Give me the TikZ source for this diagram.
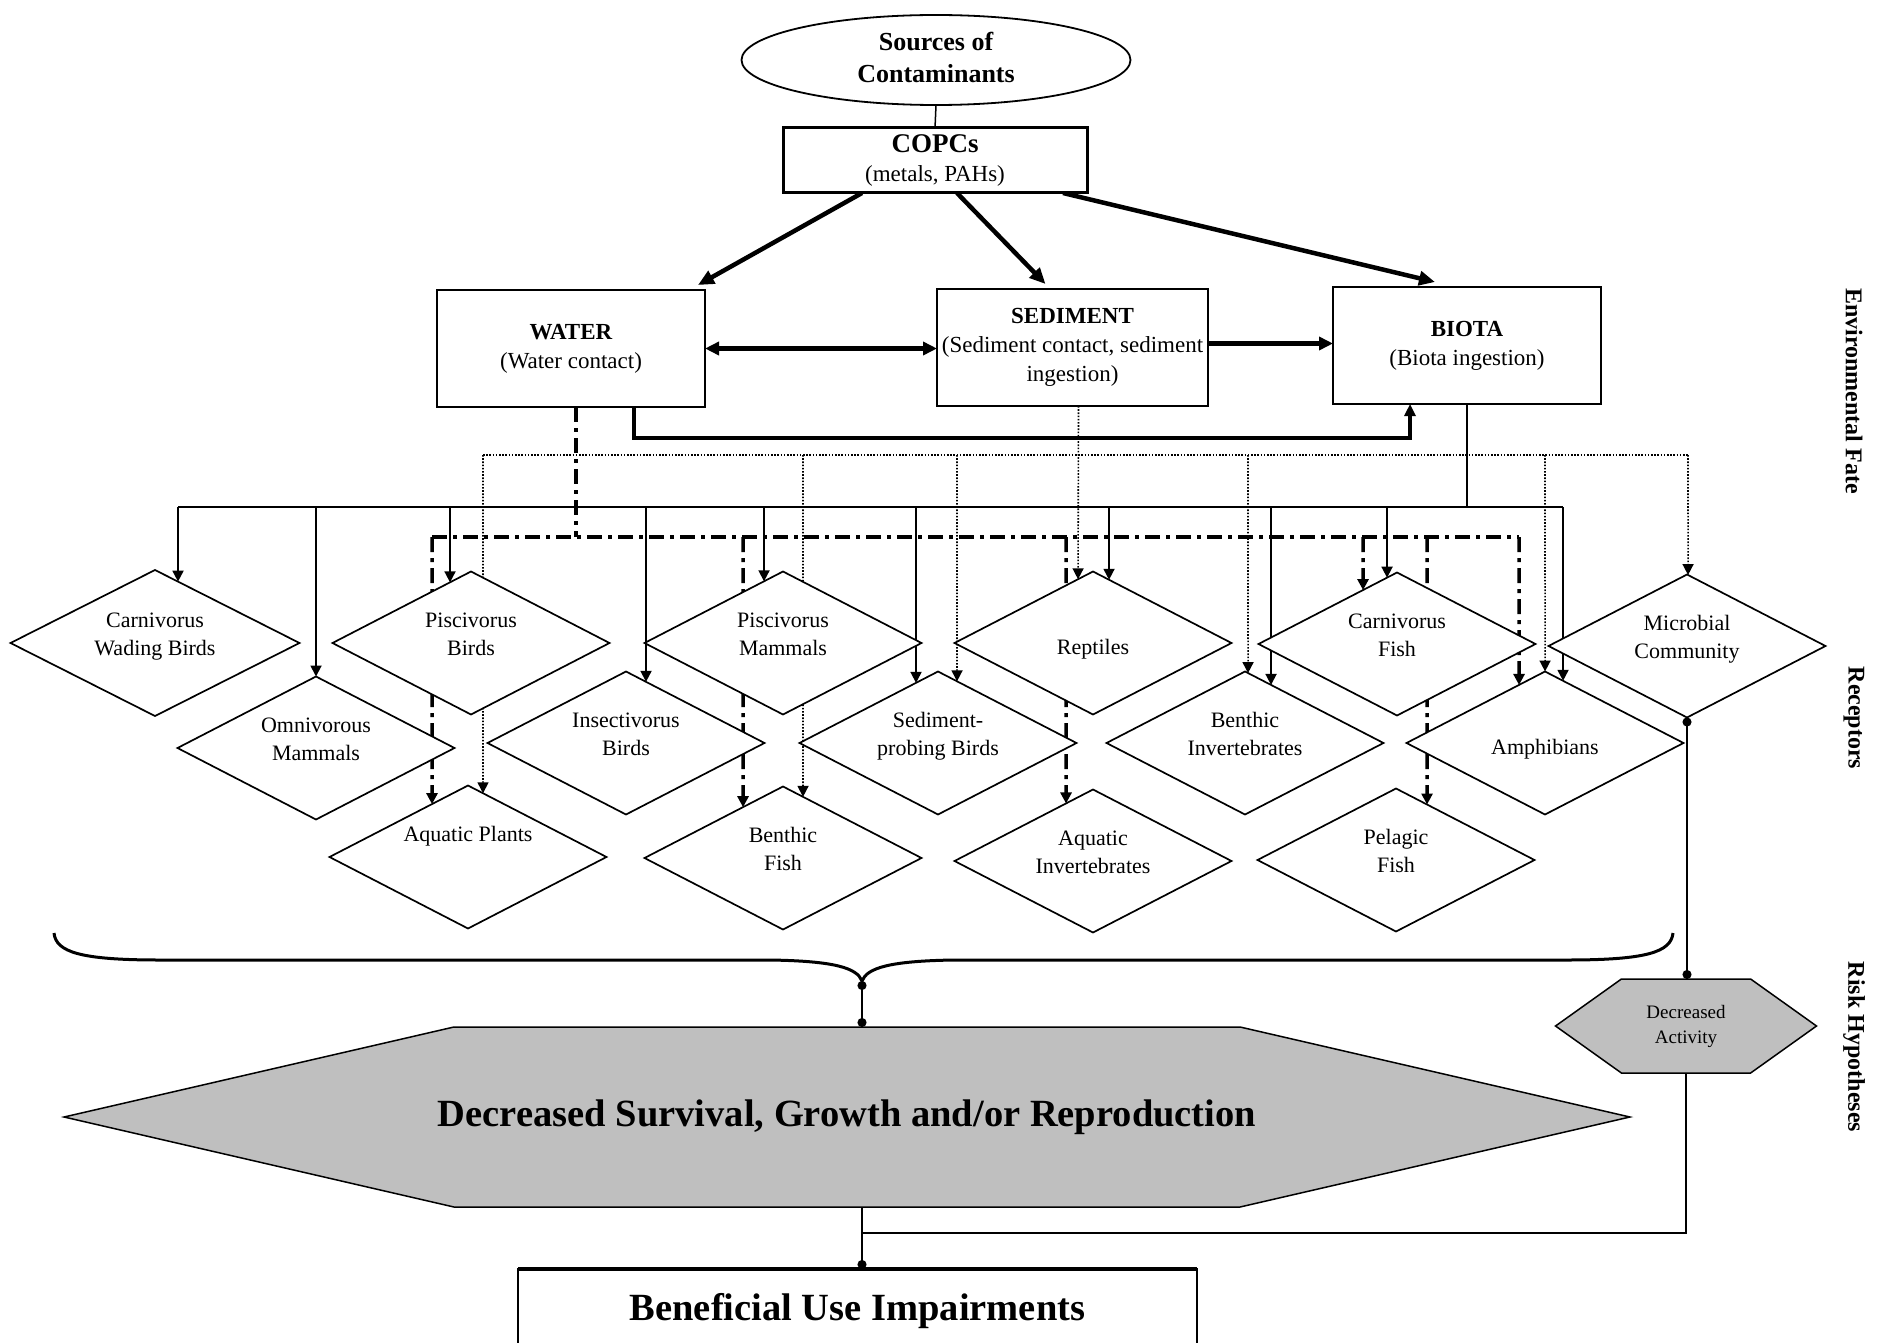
\documentclass[tikz,border=0pt]{standalone}
\usepackage{fontspec}
\setmainfont{Liberation Serif}
\usetikzlibrary{arrows.meta,shapes.geometric,shapes.symbols}
\pgfdeclarelayer{back}
\pgfsetlayers{back,main}

\begin{document}
\begin{tikzpicture}[x=1pt,y=-1pt,
	every node/.style={inner sep=0pt,outer sep=0pt,align=center},
	fatebox/.style={draw,line width=1.7pt,fill=white,minimum width=268pt,minimum height=117pt,font=\fontsize{23}{29}\selectfont},
	recep/.style={draw,diamond,aspect=1.94,line width=1.7pt,fill=white,minimum width=277pt,minimum height=143pt,text depth=18pt,font=\fontsize{22}{28}\selectfont},
	hyp/.style={draw,signal,signal to=west and east,line width=1.5pt,fill=black!25},
	sidelabel/.style={rotate=-90,font=\fontsize{24}{28}\selectfont\bfseries},
	solidline/.style={line width=1.8pt},
	dotline/.style={line width=1.6pt,dash pattern=on 1.6pt off 1.6pt},
	dashdotline/.style={line width=3.5pt,dash pattern=on 15pt off 6pt on 4pt off 6pt},
	headed/.style={-{Triangle[length=11pt,width=11pt]}},
	bigarrow/.style={line width=4.5pt,-{Triangle[length=16pt,width=14pt]}},
	dotends/.style={{Circle[length=9pt]}-{Circle[length=9pt]}}
]
\useasboundingbox (0,0) rectangle (1881,1343);

\node[draw,ellipse,line width=1.8pt,minimum width=389pt,minimum height=90pt,text depth=6pt,font=\fontsize{26}{32}\selectfont\bfseries] (src) at (936,60) {Sources of\\Contaminants};
\node[fatebox,line width=3pt,minimum width=304pt,minimum height=65pt] (copc) at (935,160.5) {{\fontsize{27}{33}\selectfont\bfseries COPCs}\\(metals, PAHs)};
\node[fatebox] (wat) at (571,348.5) {\textbf{WATER}\\(Water contact)};
\node[fatebox,minimum width=271pt] (sed) at (1072.5,347.5) {\textbf{SEDIMENT}\\(Sediment contact, sediment\\ingestion)};
\node[fatebox] (bio) at (1467,345.5) {\textbf{BIOTA}\\(Biota ingestion)};

\node[recep,minimum width=289pt,minimum height=146pt] (cwb) at (155,643) {Carnivorus\\Wading Birds};
\node[recep] (pib) at (471,643) {Piscivorus\\Birds};
\node[recep] (pim) at (783,643) {Piscivorus\\Mammals};
\node[recep,text height=41pt] (rep) at (1093,643) {Reptiles};
\node[recep] (caf) at (1397,644) {Carnivorus\\Fish};
\node[recep] (mic) at (1687,646) {Microbial\\Community};
\node[recep] (omm) at (316,748) {Omnivorous\\Mammals};
\node[recep] (inb) at (626,743) {Insectivorus\\Birds};
\node[recep] (spb) at (938,743) {Sediment-\\probing Birds};
\node[recep] (bin) at (1245,743) {Benthic\\Invertebrates};
\node[recep,text height=41pt] (amp) at (1545,743) {Amphibians};
\node[recep] (aqp) at (468,857) {Aquatic Plants\\\mbox{}};
\node[recep] (bef) at (783,858) {Benthic\\Fish};
\node[recep] (aqi) at (1093,861) {Aquatic\\Invertebrates};
\node[recep] (pef) at (1396,860) {Pelagic\\Fish};

\node[hyp,minimum width=1562pt,minimum height=180pt,inner xsep=-16pt,signal pointer angle=26,font=\fontsize{38.5}{44}\selectfont\bfseries] (dsg) at (847,1117) {Decreased Survival, Growth and/or Reproduction};
\node[hyp,minimum width=261pt,minimum height=94pt,signal pointer angle=71,font=\fontsize{19}{25}\selectfont] (dac) at (1686,1026) {Decreased\\Activity};
\node[draw,line width=1.7pt,minimum width=679pt,minimum height=76pt,text height=36pt,font=\fontsize{38.5}{44}\selectfont\bfseries] (bui) at (857.5,1307) {Beneficial Use Impairments};
\draw[line width=4pt] (bui.north west) -- (bui.north east);

\node[sidelabel] (envf) at (1854,391) {Environmental Fate};
\node[sidelabel] (rcpt) at (1854,718) {Receptors};
\node[sidelabel] (rskh) at (1854,1047) {Risk Hypotheses};

\coordinate (sbus) at (178,507);
\coordinate (sbusend) at (1563,507);
\coordinate (dbus) at (483,455);
\coordinate (dbusend) at (1688,455);
\coordinate (dcbus) at (432,537);
\coordinate (dcbusend) at (1519,537);
\coordinate (brtip) at (862,981);
\coordinate (join) at (862,1233);

\begin{pgfonlayer}{back}
\draw[line width=1.5pt] (src.south) -- (copc.north);
\draw[bigarrow] ([xshift=-73pt]copc.south) -- ([xshift=127pt,yshift=5pt]wat.north);
\draw[bigarrow] ([xshift=22pt]copc.south) -- ([xshift=-27pt,yshift=5pt]sed.north);
\draw[bigarrow] ([xshift=128pt]copc.south) -- ([xshift=-32pt,yshift=5pt]bio.north);
\draw[line width=4.5pt,{Triangle[length=14pt,width=13pt]}-{Triangle[length=14pt,width=13pt]}] (wat.east) -- (wat.east -| sed.west);
\draw[line width=4.5pt,-{Triangle[length=14pt,width=13pt]}] ([yshift=4pt]sed.east) -- ([yshift=4pt]sed.east -| bio.west);
\draw[line width=4.5pt,-{Triangle[length=12pt,width=11pt]}] ([xshift=63pt]wat.south) -- ++(0,31) -| ([xshift=-57pt]bio.south);

\draw[solidline] (bio.south) -- (bio.south |- sbus);
\draw[solidline] (sbus) -- (sbusend);
\foreach \x/\n/\s in {178/cwb/east,316/omm/east,450/pib/west,646/inb/east,764/pim/west,916/spb/west,1109/rep/east,1271/bin/east,1387/caf/west,1563/amp/east}
	\draw[solidline,headed] (sbus -| \x,0) -- (intersection of \x,0--\x,1 and \n.north--\n.\s);

\draw[dotline] (dbus) -- (dbusend);
\draw[dotline,headed] ([xshift=6pt]sed.south) -- (intersection of 1078,0--1078,1 and rep.north--rep.west);
\foreach \x/\n/\s in {483/aqp/east,803/bef/east,957/spb/east,1248/bin/east,1545/amp/east,1688/mic/east}
	\draw[dotline,headed] (dbus -| \x,0) -- (intersection of \x,0--\x,1 and \n.north--\n.\s);

\draw[dashdotline] ([xshift=5pt]wat.south) -- ([xshift=5pt]wat.south |- dcbus);
\draw[dashdotline] (dcbus) -- (dcbusend);
\foreach \x/\n/\s in {432/aqp/west,743/bef/west,1066/aqi/west,1363/caf/west,1427/pef/east,1519/amp/west}
	\draw[dashdotline,headed] (dcbus -| \x,0) -- (intersection of \x,0--\x,1 and \n.north--\n.\s);

\draw[solidline,dotends] (brtip) -- (brtip |- dsg.north);
\draw[solidline,dotends] (mic.south) -- (mic.south |- dac.north);
\draw[solidline] (dac.south) |- (join);
\draw[solidline,-{Circle[length=9pt]}] (brtip |- dsg.south) -- (brtip |- bui.north);
\end{pgfonlayer}

\draw[line width=3pt] (54,933) .. controls (56,952) and (80,960) .. (160,960) -- (770,960)
	.. controls (835,961) and (857,968) .. (brtip) .. controls (867,968) and (889,961) .. (954,960)
	-- (1567,960) .. controls (1647,960) and (1671,952) .. (1673,933);
\end{tikzpicture}
\end{document}
